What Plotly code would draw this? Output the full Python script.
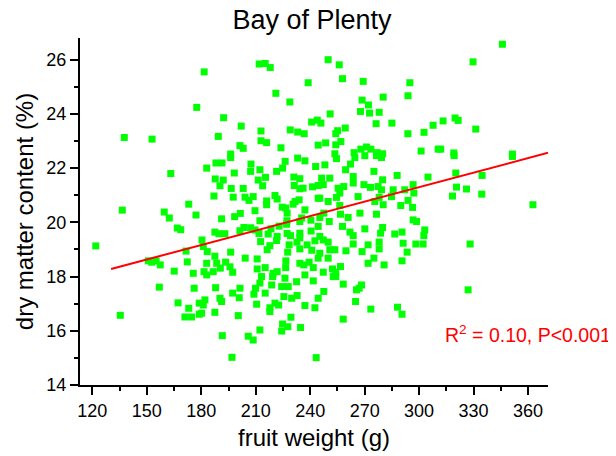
import plotly.graph_objects as go

# Fruit weight (g) and dry matter content (%) for each fruit
fruit_weight = [
    177.5, 137.6, 152.9, 181.6, 211.9, 215.2, 218.0, 238.9, 221.1, 228.8,
    192.3, 202.0, 212.9, 229.0, 233.1, 236.7, 240.8, 243.9, 189.4, 212.9,
    216.0, 201.3, 203.1, 223.9, 244.4, 196.2, 249.9, 256.0, 257.8, 269.2,
    294.9, 280.2, 293.9, 268.6, 272.1, 267.7, 272.7, 278.0, 251.0, 245.9,
    276.3, 285.0, 307.7, 259.3, 255.1, 254.1, 293.8, 302.7, 256.9, 248.5,
    254.1, 271.0, 267.9, 273.4, 264.2, 276.9, 279.9, 301.1, 310.5, 253.6,
    345.9, 329.7, 313.2, 319.8, 321.5, 331.2, 311.9, 319.1, 351.4, 163.2,
    136.5, 173.1, 159.6, 162.4, 177.1, 166.8, 168.7, 121.9, 171.6, 150.8,
    152.7, 155.1, 157.4, 172.3, 165.1, 175.6, 183.0, 188.1, 191.4, 196.2,
    207.4, 212.3, 207.2, 226.2, 224.8, 221.5, 233.1, 237.1, 243.0, 198.2,
    187.7, 192.1, 215.4, 211.4, 231.0, 234.3, 231.2, 190.3, 213.8, 196.5,
    203.1, 234.3, 236.1, 241.3, 244.4, 187.0, 197.6, 204.1, 208.6, 220.6,
    221.8, 216.0, 206.3, 231.7, 233.9, 230.6, 244.4, 216.0, 224.6, 226.5,
    237.1, 209.6, 201.5, 198.4, 191.2, 212.3, 227.3, 227.2, 234.3, 240.4,
    235.3, 244.4, 203.5, 207.2, 209.6, 218.4, 222.9, 227.0, 187.5, 189.7,
    193.0, 201.3, 211.8, 216.9, 221.8, 227.3, 229.2, 234.3, 240.5, 234.3,
    180.4, 181.1, 212.7, 217.8, 221.5, 228.4, 232.7, 234.3, 238.3, 242.6,
    216.3, 183.3, 196.2, 227.6, 240.9, 204.2, 187.5, 183.0, 188.5, 193.4,
    195.8, 190.5, 210.8, 215.2, 226.6, 226.5, 234.3, 236.5, 239.4, 241.7,
    244.4, 210.8, 219.6, 221.8, 197.3, 186.6, 181.5, 254.5, 264.6, 270.1,
    276.5, 279.3, 248.1, 259.5, 262.2, 275.1, 287.9, 279.9, 304.9, 246.3,
    250.8, 247.2, 255.4, 258.5, 263.7, 263.7, 269.6, 273.2, 277.4, 279.3,
    285.7, 296.7, 292.1, 297.1, 245.3, 249.9, 256.3, 254.5, 266.4, 275.6,
    278.0, 280.2, 284.8, 289.9, 293.9, 296.4, 256.3, 247.5, 250.5, 245.3,
    256.7, 260.9, 267.4, 276.5, 296.7, 298.6, 257.8, 270.1, 279.9, 278.8,
    286.6, 290.6, 303.1, 302.6, 245.3, 247.2, 261.9, 263.7, 249.9, 263.7,
    271.9, 278.0, 278.0, 291.2, 298.2, 302.2, 250.8, 253.6, 259.7, 268.6,
    293.4, 245.3, 249.9, 275.1, 290.6, 271.9, 280.7, 256.7, 252.3, 247.2,
    254.1, 319.3, 351.4, 320.2, 334.7, 320.6, 326.1, 318.4, 334.5, 362.7,
    328.1, 156.9, 176.1, 135.4, 167.2, 173.1, 171.0, 174.7, 178.9, 178.9,
    183.0, 187.9, 182.0, 181.1, 180.2, 187.5, 190.3, 191.2, 197.3, 201.3,
    200.9, 200.4, 209.9, 209.0, 210.5, 213.2, 212.3, 215.2, 218.8, 219.3,
    217.8, 217.8, 220.6, 222.6, 224.3, 226.1, 227.9, 225.5, 229.8, 232.5,
    232.8, 237.1, 241.7, 237.1, 242.6, 244.4, 229.4, 224.8, 227.7, 224.3,
    234.7, 212.3, 191.6, 205.9, 208.6, 196.9, 243.3, 252.7, 254.1, 258.2,
    247.5, 265.5, 268.3, 267.0, 265.0, 273.4, 288.1, 290.6, 258.2, 327.0,
]
dry_matter = [
    24.24, 23.13, 23.07, 25.55, 25.84, 25.86, 25.71, 25.15, 24.76, 24.44,
    23.86, 23.55, 23.37, 23.41, 23.33, 23.27, 23.70, 23.77, 23.17, 23.01,
    22.94, 22.83, 22.73, 22.75, 22.85, 22.52, 26.00, 25.81, 25.30, 25.20,
    25.15, 24.62, 24.67, 24.51, 24.33, 24.09, 24.03, 24.06, 24.00, 23.66,
    23.64, 23.66, 23.58, 23.48, 23.38, 23.27, 23.27, 23.32, 22.98, 22.93,
    22.86, 22.78, 22.70, 22.70, 22.57, 22.57, 22.53, 22.63, 22.70, 22.53,
    26.57, 25.92, 23.74, 23.85, 23.76, 23.44, 22.70, 22.56, 22.52, 21.80,
    20.45, 20.67, 20.38, 20.16, 20.27, 19.79, 19.73, 19.13, 18.94, 18.58,
    18.53, 18.58, 18.43, 18.54, 18.20, 18.12, 22.00, 22.19, 22.19, 22.39,
    22.15, 21.94, 21.88, 22.25, 22.00, 21.88, 22.37, 22.27, 22.06, 21.82,
    21.60, 21.56, 21.66, 21.56, 21.67, 21.61, 21.36, 21.35, 21.35, 21.25,
    21.25, 21.24, 21.26, 21.31, 21.36, 20.97, 20.93, 20.93, 20.95, 20.99,
    20.86, 20.79, 20.81, 20.77, 20.83, 20.67, 20.89, 20.65, 20.56, 20.53,
    20.46, 20.43, 20.33, 20.21, 20.13, 20.06, 20.34, 20.06, 20.03, 20.08,
    20.16, 19.85, 19.81, 19.80, 19.72, 19.76, 19.86, 19.93, 19.64, 19.58,
    19.58, 19.69, 19.59, 19.57, 19.48, 19.59, 19.51, 19.60, 19.68, 19.43,
    19.35, 19.11, 19.29, 19.14, 19.33, 19.17, 19.27, 19.02, 19.17, 19.32,
    18.99, 18.92, 18.90, 18.90, 18.97, 18.68, 18.75, 18.49, 18.49, 18.53,
    18.36, 18.31, 18.65, 18.33, 18.58, 18.33, 18.49, 18.43, 18.53, 18.33,
    18.68, 18.28, 18.12, 18.18, 18.16, 18.18, 18.18, 22.35, 22.39, 22.46,
    22.46, 22.39, 22.12, 21.94, 22.15, 21.88, 21.73, 21.57, 21.67, 21.63,
    21.63, 21.39, 21.26, 21.32, 21.69, 21.45, 21.39, 21.29, 21.32, 21.20,
    21.20, 21.39, 21.20, 21.08, 20.89, 20.77, 21.08, 20.92, 20.95, 20.77,
    20.92, 20.65, 20.95, 20.62, 20.81, 20.55, 20.62, 20.34, 20.03, 20.18,
    20.30, 20.18, 20.34, 20.30, 20.09, 20.03, 19.85, 19.76, 19.81, 19.60,
    19.57, 19.64, 19.72, 19.51, 19.48, 19.35, 19.64, 19.51, 19.27, 19.20,
    19.17, 19.27, 19.02, 19.23, 19.20, 19.20, 18.99, 18.99, 18.95, 18.92,
    18.90, 18.86, 18.68, 18.68, 18.58, 18.49, 18.43, 18.37, 18.28, 18.16,
    18.16, 22.46, 22.43, 21.82, 21.73, 21.30, 21.23, 20.97, 21.04, 20.65,
    19.20, 17.61, 17.57, 16.57, 17.03, 16.83, 16.51, 16.51, 17.02, 16.61,
    18.06, 17.59, 17.14, 16.95, 16.65, 16.68, 17.20, 17.08, 17.39, 17.57,
    17.22, 16.56, 17.57, 17.35, 16.98, 18.00, 17.76, 17.39, 17.69, 18.00,
    16.85, 16.71, 17.02, 16.95, 17.63, 17.94, 17.63, 17.26, 17.20, 17.81,
    17.30, 18.06, 17.84, 16.93, 16.85, 17.20, 16.50, 16.25, 16.15, 15.99,
    16.12, 16.03, 15.82, 15.80, 15.66, 15.02, 15.01, 18.00, 18.00, 17.72,
    17.45, 17.51, 17.69, 17.57, 17.08, 16.80, 16.87, 16.61, 16.43, 17.51,
]

# Linear regression
fit_slope = 0.0178
fit_intercept = 15.96
fit_x_range = [130.3, 371.0]

x_tick_values = [120, 150, 180, 210, 240, 270, 300, 330, 360]
y_tick_values = [14, 16, 18, 20, 22, 24, 26]

chart_title = "Bay of Plenty"
x_title = "fruit weight (g)"
y_title = "dry matter content (%)"
stats_text = "R<sup>2</sup> = 0.10, P<0.001"

FONT = "Liberation Sans, Arial, sans-serif"

# The page body adds an 8 px offset, so the figure margins compensate for it.
fig = go.Figure()
fig.add_trace(go.Scatter(
    x=fruit_weight, y=dry_matter, mode="markers",
    marker=dict(symbol="square", size=7, color="#00FF00", line=dict(width=0)),
    showlegend=False, hoverinfo="skip",
))
fit_y = [fit_intercept + fit_slope * v for v in fit_x_range]
fig.add_trace(go.Scatter(
    x=fit_x_range, y=fit_y, mode="lines",
    line=dict(color="#FF0000", width=2),
    showlegend=False, hoverinfo="skip",
))

fig.update_layout(
    width=616, height=456,
    margin=dict(l=72, r=76, t=30, b=79, autoexpand=False),
    paper_bgcolor="white", plot_bgcolor="white",
    font=dict(family=FONT, color="black", size=18),
    title=dict(text=chart_title, x=304 / 616, xref="container", xanchor="center",
               y=1 - 12 / 456, yref="container", yanchor="middle",
               font=dict(size=27, family=FONT, color="black")),
    xaxis=dict(
        range=[113.2, 371.0], tickmode="array", tickvals=x_tick_values,
        showline=True, linecolor="black", linewidth=2, mirror=False,
        ticks="outside", ticklen=8, tickwidth=2, tickcolor="black",
        minor=dict(ticks="outside", ticklen=4, tickwidth=2, tickcolor="black", dtick=15, tick0=105),
        showgrid=False, zeroline=False, automargin=False,
        tickfont=dict(size=18, family=FONT),
        title=dict(text=x_title, font=dict(size=24, family=FONT), standoff=10),
    ),
    yaxis=dict(
        range=[14, 26.8], tickmode="array", tickvals=y_tick_values,
        showline=True, linecolor="black", linewidth=2, mirror=False,
        ticks="outside", ticklen=8, tickwidth=2, tickcolor="black",
        minor=dict(ticks="outside", ticklen=4, tickwidth=2, tickcolor="black", dtick=1, tick0=13),
        showgrid=False, zeroline=False, automargin=False,
        tickfont=dict(size=18, family=FONT),
        title=dict(text=y_title, font=dict(size=24, family=FONT), standoff=6),
    ),
    annotations=[dict(
        text=stats_text, xref="paper", yref="paper",
        x=(443 - 80) / 468.3, y=(385 - 334) / 347, xanchor="left", yanchor="middle",
        showarrow=False, font=dict(size=19.5, family=FONT, color="#FF0000"),
    )],
)

fig.write_html("out.html")
